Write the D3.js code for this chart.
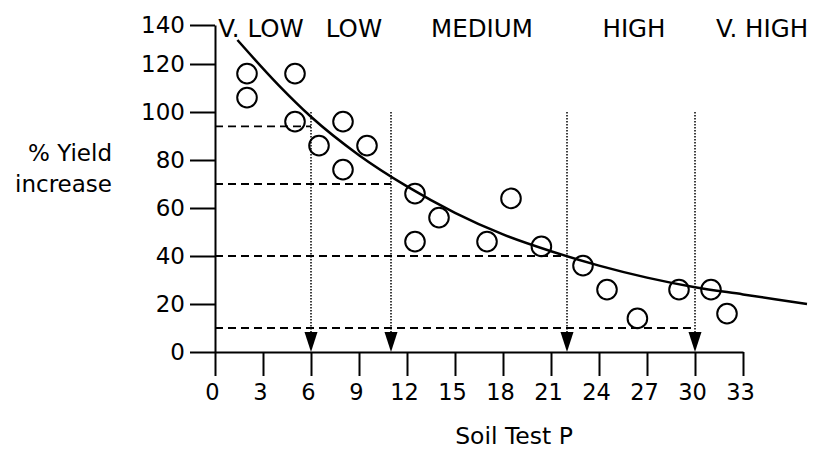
<!DOCTYPE html>
<html>
<head>
<meta charset="utf-8">
<script src="https://cdn.jsdelivr.net/npm/d3@7"></script>
<style>
  body { margin: 0; background: #fff; }
  text { font-family: "DejaVu Sans", Verdana, sans-serif; fill: #000; }
</style>
</head>
<body>
<svg id="chart" width="814" height="450"></svg>
<script>
// observed points
const soilP = [2, 2, 5, 5, 6.5, 8, 8, 9.5, 12.5, 12.5, 14, 17, 18.5, 20.4, 23, 24.5, 26.4, 29, 31, 32]
const yieldInc = [116, 106, 116, 96, 86, 96, 76, 86, 66, 46, 56, 46, 64, 44, 36, 26, 14, 26, 26, 16]

// response curve
const curveP = [1.4, 4, 6, 9, 12, 15, 18, 21, 24, 27, 30, 33, 37]
const curveY = [130, 111, 98, 82, 69, 58, 49, 42, 36, 31, 27, 24, 20]

// class limits and the yield levels that define them
const classNames = ["V. LOW", "LOW", "MEDIUM", "HIGH", "V. HIGH"]
const classBreaks = [0, 6, 11, 22, 30, 38]
const limitYield = [94, 70, 40, 10]

const xTicks = [0, 3, 6, 9, 12, 15, 18, 21, 24, 27, 30, 33]
const yTicks = [0, 20, 40, 60, 80, 100, 120, 140]

const svg = d3.select("#chart")

let x = d3.scaleLinear().domain([0, 33]).range([215, 743])
let y = d3.scaleLinear().domain([0, 120]).range([352, 64])
// the 140 tick sits closer to 120 than the rest in the original
let yAx = d3.scaleLinear().domain([0, 120, 140]).range([y(0), y(120), 25])

// axes
let gy = svg.append("g")
    .attr("transform", `translate(${x(0)},0)`)
    .call(d3.axisLeft(yAx).tickValues(yTicks).tickSize(25).tickSizeOuter(0).tickPadding(5))
gy.select(".domain").attr("stroke-width", 2)
gy.selectAll(".tick line").attr("stroke-width", 2)
gy.selectAll(".tick text").style("font-size", "23px")

let gx = svg.append("g")
    .attr("transform", `translate(0,${y(0)})`)
    .call(d3.axisBottom(x).tickValues(xTicks).tickSize(24).tickSizeOuter(0).tickPadding(8))
gx.select(".domain").attr("stroke-width", 2)
gx.selectAll(".tick line").attr("stroke-width", 2)
gx.selectAll(".tick text").style("font-size", "22.5px").attr("dx", -3)

// dashed yield levels
svg.selectAll(".level")
    .data(limitYield)
    .join("line")
    .attr("x1", x(0))
    .attr("x2", (d, i) => x(classBreaks[i + 1]))
    .attr("y1", d => y(d))
    .attr("y2", d => y(d))
    .attr("stroke", "#000")
    .attr("stroke-width", 1.8)
    .attr("stroke-dasharray", "8,5")

// dotted drop lines with arrow heads
let breaks = classBreaks.slice(1, 5)
svg.selectAll(".drop")
    .data(breaks)
    .join("line")
    .attr("x1", d => x(d))
    .attr("x2", d => x(d))
    .attr("y1", y(100))
    .attr("y2", y(0) - 18)
    .attr("stroke", "#000")
    .attr("stroke-width", 1.5)
    .attr("stroke-dasharray", "1.5,1.5")

svg.selectAll(".arrow")
    .data(breaks)
    .join("path")
    .attr("d", d => `M${x(d) - 6.5},${y(0) - 20}L${x(d) + 6.5},${y(0) - 20}L${x(d)},${y(0)}Z`)
    .attr("fill", "#000")

// curve
let curvePts = curveP.map((p, i) => [p, curveY[i]])
svg.append("path")
    .datum(curvePts)
    .attr("fill", "none")
    .attr("stroke", "#000")
    .attr("stroke-width", 2.5)
    .attr("d", d3.line()
        .x(d => x(d[0]))
        .y(d => y(d[1]))
        .curve(d3.curveMonotoneX))

// points
svg.selectAll(".pt")
    .data(soilP)
    .join("circle")
    .attr("cx", d => x(d))
    .attr("cy", (d, i) => y(yieldInc[i]))
    .attr("r", 9.8)
    .attr("fill", "none")
    .attr("stroke", "#000")
    .attr("stroke-width", 2)

// class names
svg.selectAll(".cls")
    .data(classNames)
    .join("text")
    .attr("x", (d, i) => x((classBreaks[i] + classBreaks[i + 1]) / 2))
    .attr("y", 36.5)
    .attr("dx", (d, i) => i == 0 ? -2 : 3)
    .attr("text-anchor", "middle")
    .style("font-size", "24.5px")
    .text(d => d)

// axis titles
let yt = svg.append("text")
    .attr("text-anchor", "end")
    .style("font-size", "23px")
yt.append("tspan").attr("x", 112).attr("y", 160.5).text("% Yield")
yt.append("tspan").attr("x", 112).attr("y", 191.5).text("increase")

svg.append("text")
    .attr("x", 514)
    .attr("y", 444)
    .attr("text-anchor", "middle")
    .style("font-size", "23.5px")
    .text("Soil Test P")
</script>
</body>
</html>
